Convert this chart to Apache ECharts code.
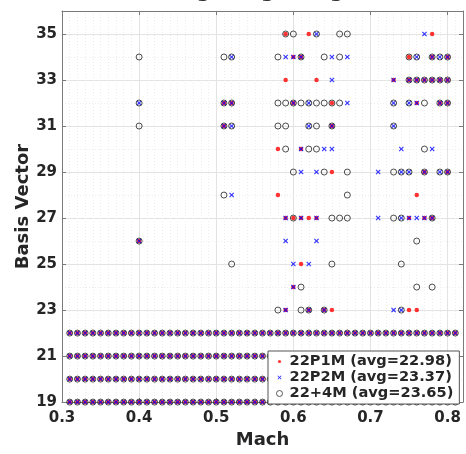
<!DOCTYPE html>
<html><head><meta charset="utf-8">
<script src="https://cdn.jsdelivr.net/npm/echarts@6/dist/echarts.min.js"></script>
<style>html,body{margin:0;padding:0;background:#fff;}#c{width:466px;height:454px;}</style>
</head><body><div id="c"></div>
<script>
// Mach values present in the full rows (basis vectors 19-22)
const machGrid = [0.31,0.32,0.33,0.34,0.35,0.36,0.37,0.38,0.39,0.40,0.41,0.42,0.43,0.44,0.45,0.46,0.47,0.48,0.49,0.50,
  0.51,0.52,0.53,0.54,0.55,0.56,0.57,0.58,0.59,0.60,0.61,0.62,0.63,0.64,0.65,0.66,0.67,0.68,0.69,0.70,
  0.71,0.72,0.73,0.74,0.75,0.76,0.77,0.78,0.79,0.80,0.81];
const fullRows = [19, 20, 21, 22];
const xTicks = [0.3, 0.4, 0.5, 0.6, 0.7, 0.8];
const yTicks = [19, 21, 23, 25, 27, 29, 31, 33, 35];
const seriesNames = ['22P1M (avg=22.98)', '22P2M (avg=23.37)', '22+4M (avg=23.65)'];

// Extra basis vectors above 22: [basis vector, [mach values]]
const p1mExtra = [
  [35, [0.59, 0.62, 0.78]],
  [34, [0.60, 0.61, 0.75, 0.78, 0.80]],
  [33, [0.59, 0.63, 0.73, 0.75, 0.76, 0.77, 0.78, 0.79, 0.80]],
  [32, [0.51, 0.52, 0.60, 0.65, 0.76, 0.79, 0.80]],
  [31, [0.51, 0.65]],
  [30, [0.58, 0.61]],
  [29, [0.65, 0.77, 0.80]],
  [28, [0.58, 0.76]],
  [27, [0.59, 0.60, 0.61, 0.62, 0.63, 0.75, 0.77, 0.78]],
  [26, [0.40]],
  [25, [0.61]],
  [24, [0.60]],
  [23, [0.59, 0.62, 0.64, 0.65, 0.75, 0.76]]
];
const p2mExtra = [
  [35, [0.63, 0.77]],
  [34, [0.52, 0.59, 0.60, 0.61, 0.65, 0.67, 0.76, 0.78, 0.79, 0.80]],
  [33, [0.65, 0.73, 0.75, 0.76, 0.77, 0.78, 0.79, 0.80]],
  [32, [0.40, 0.51, 0.52, 0.60, 0.62, 0.67, 0.73, 0.75, 0.76, 0.79, 0.80]],
  [31, [0.51, 0.52, 0.62, 0.65, 0.73]],
  [30, [0.61, 0.64, 0.65, 0.74, 0.78]],
  [29, [0.61, 0.63, 0.71, 0.74, 0.75, 0.77, 0.79, 0.80]],
  [28, [0.52]],
  [27, [0.59, 0.61, 0.63, 0.71, 0.74, 0.75, 0.76, 0.77, 0.78]],
  [26, [0.40, 0.59, 0.63]],
  [25, [0.60, 0.62]],
  [24, [0.60]],
  [23, [0.59, 0.62, 0.64, 0.73, 0.74]]
];
const p4mExtra = [
  [35, [0.59, 0.60, 0.63, 0.66, 0.67]],
  [34, [0.40, 0.51, 0.52, 0.58, 0.61, 0.64, 0.66, 0.75, 0.76, 0.78, 0.79, 0.80]],
  [33, [0.75, 0.76, 0.77, 0.78, 0.79, 0.80]],
  [32, [0.40, 0.51, 0.52, 0.58, 0.59, 0.60, 0.61, 0.62, 0.63, 0.64, 0.65, 0.66, 0.73, 0.75, 0.77, 0.79, 0.80]],
  [31, [0.40, 0.51, 0.52, 0.58, 0.59, 0.62, 0.63, 0.65, 0.73]],
  [30, [0.59, 0.62, 0.63, 0.77]],
  [29, [0.60, 0.64, 0.67, 0.73, 0.74, 0.75, 0.77, 0.79, 0.80]],
  [28, [0.51, 0.67]],
  [27, [0.60, 0.65, 0.66, 0.67, 0.73, 0.74, 0.78]],
  [26, [0.40, 0.76]],
  [25, [0.52, 0.65, 0.74]],
  [24, [0.61, 0.76, 0.78]],
  [23, [0.58, 0.61, 0.62, 0.64, 0.74]]
];

function buildPoints(extra) {
  const pts = [];
  fullRows.forEach(r => machGrid.forEach(m => pts.push([m, r])));
  extra.forEach(([r, ms]) => ms.forEach(m => pts.push([m, r])));
  return pts;
}

const FONT = 'DejaVu Sans';
const TXT = '#262626';
const X_PATH = 'path://M0,1.6L1.6,0L5,3.4L8.4,0L10,1.6L6.6,5L10,8.4L8.4,10L5,6.6L1.6,10L0,8.4L3.4,5Z';
const X_ICON = 'path://M0,0M10,10M3,3.6L3.6,3L5,4.4L6.4,3L7,3.6L5.6,5L7,6.4L6.4,7L5,5.6L3.6,7L3,6.4L4.4,5Z';
const DOT_ICON = 'path://M0,0M10,10M5,3.4A1.6,1.6 0 1 1 5,6.6A1.6,1.6 0 1 1 5,3.4Z';
const RING_ICON = 'path://M0,0M10,10M5,2A3,3 0 1 1 5,8A3,3 0 1 1 5,2Z';

const gridLeft = 62, gridTop = 11, gridRight = 3, gridBottom = 44;

const chart = echarts.init(document.getElementById('c'), null, {renderer: 'canvas'});
const axisCommon = {
  axisLine: {show: true, lineStyle: {color: '#7a7a7a', width: 1}},
  axisTick: {show: true, inside: true, length: 4, lineStyle: {color: '#7a7a7a'}},
};
chart.setOption({
  animation: false,
  backgroundColor: '#fff',
  title: {
    text: '(c) Using Range Flags',
    left: 'center', top: -23,
    textStyle: {fontFamily: FONT, fontWeight: 'bold', fontSize: 20, color: TXT}
  },
  grid: {left: gridLeft, top: gridTop, right: gridRight, bottom: gridBottom, containLabel: false},
  legend: {
    orient: 'vertical', left: 268, top: 351, z: 20, zlevel: 1,
    backgroundColor: '#fff', borderColor: '#555', borderWidth: 1,
    padding: [3, 6, 3, 6], itemGap: 1, itemWidth: 10, itemHeight: 10,
    textStyle: {fontFamily: FONT, fontWeight: 'bold', fontSize: 14.6, color: TXT, lineHeight: 15},
    data: [
      {name: seriesNames[0], icon: DOT_ICON, itemStyle: {color: '#ff0000'}},
      {name: seriesNames[1], icon: X_ICON, itemStyle: {color: '#0000ff'}},
      {name: seriesNames[2], icon: RING_ICON, itemStyle: {color: 'rgba(0,0,0,0)', borderColor: '#333', borderWidth: 1}}
    ]
  },
  xAxis: [{
    type: 'value', min: 0.3, max: 0.82, interval: 0.1,
    name: 'Mach', nameLocation: 'middle', nameGap: 21,
    nameTextStyle: {fontFamily: FONT, fontWeight: 'bold', fontSize: 18, color: TXT},
    ...axisCommon,
    axisLabel: {fontFamily: FONT, fontWeight: 'bold', fontSize: 15, color: TXT, margin: 9,
      showMaxLabel: false,
      formatter: v => { const t = xTicks.find(k => Math.abs(k - v) < 1e-6); return t === undefined ? '' : t.toFixed(1); }},
    splitLine: {show: true, lineStyle: {color: '#e3e3e3', width: 1}},
    minorTick: {show: false, splitNumber: 10},
    minorSplitLine: {show: true, lineStyle: {color: '#ececec', width: 1, type: [1, 2]}}
  }, {
    type: 'value', min: 0.3, max: 0.82, interval: 0.1, position: 'top',
    ...axisCommon, axisLabel: {show: false}, splitLine: {show: false}
  }],
  yAxis: [{
    type: 'value', min: 19, max: 36, interval: 2,
    name: 'Basis Vector', nameLocation: 'middle', nameGap: 30, nameMoveOverlap: false,
    nameTextStyle: {fontFamily: FONT, fontWeight: 'bold', fontSize: 18, color: TXT},
    ...axisCommon,
    axisLabel: {fontFamily: FONT, fontWeight: 'bold', fontSize: 15, color: TXT, margin: 5,
      showMaxLabel: false,
      formatter: v => yTicks.includes(Math.round(v)) && Math.abs(v - Math.round(v)) < 1e-6 ? String(Math.round(v)) : ''},
    splitLine: {show: true, lineStyle: {color: '#e3e3e3', width: 1}},
    minorTick: {show: false, splitNumber: 2},
    minorSplitLine: {show: true, lineStyle: {color: '#ececec', width: 1, type: [1, 2]}}
  }, {
    type: 'value', min: 19, max: 36, interval: 2, position: 'right',
    ...axisCommon, axisLabel: {show: false}, splitLine: {show: false}
  }],
  series: [
    {name: seriesNames[0], type: 'scatter', symbol: 'circle', symbolSize: 4.5,
      itemStyle: {color: '#ff0000'}, data: buildPoints(p1mExtra), z: 2},
    {name: seriesNames[1], type: 'scatter', symbol: X_PATH, symbolSize: 5,
      itemStyle: {color: '#0000ff'}, data: buildPoints(p2mExtra), z: 3},
    {name: seriesNames[2], type: 'scatter', symbol: 'circle', symbolSize: 6,
      itemStyle: {color: 'rgba(0,0,0,0)', borderColor: '#222', borderWidth: 1},
      data: buildPoints(p4mExtra), z: 4}
  ]
});
</script>
</body></html>
